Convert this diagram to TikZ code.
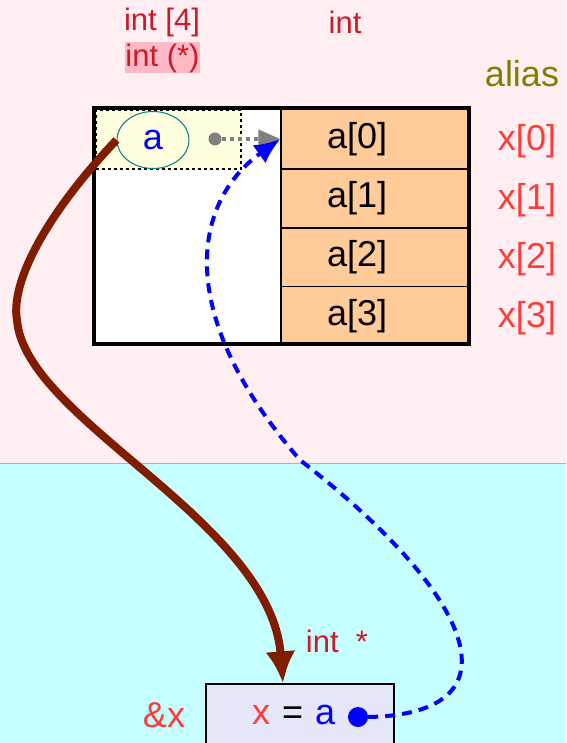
\documentclass[tikz,border=0pt]{standalone}
\usepackage{fontspec}
\setmainfont{Liberation Sans}
\usepackage{xcolor}
\usepackage{tikz}
\usetikzlibrary{arrows.meta,shapes.geometric,calc}
\definecolor{FondoRosa}{RGB}{255,238,242}
\definecolor{FondoCian}{RGB}{198,255,255}
\definecolor{CeldaNaranja}{RGB}{255,204,153}
\definecolor{PunteroAmarillo}{RGB}{255,255,224}
\definecolor{CajaLavanda}{RGB}{230,230,250}
\definecolor{TipoRojo}{RGB}{205,25,40}
\definecolor{AliasRojo}{RGB}{255,60,60}
\definecolor{Oliva}{RGB}{128,128,0}
\definecolor{MarronFlecha}{RGB}{128,28,0}
\definecolor{RosaMarca}{RGB}{255,185,198}
\tikzset{
  big/.style={font=\fontsize{36}{40}\selectfont},
  small/.style={font=\fontsize{31}{36}\selectfont},
  cell/.style={big,draw=black,line width=1.2pt,fill=CeldaNaranja,minimum height=59pt,
    text width=96pt,inner xsep=46pt,inner ysep=0pt,align=left},
  typelbl/.style={small,text=TipoRojo,inner sep=1pt},
  aliaslbl/.style={big,text=AliasRojo,inner sep=0pt},
}
\begin{document}
\begin{tikzpicture}[x=1pt,y=-1pt,>=Latex]
  \useasboundingbox (0,0) rectangle (566,743);
  \fill[FondoRosa] (0,0) rectangle (566,463);
  \fill[FondoCian] (0,463) rectangle (566,743);
  \draw[gray!60,line width=0.8pt] (0,463) -- (566,463);
  % arreglo de 4 enteros
  \fill[white] (94,108) rectangle (281,344);
  \node[cell] (c0) at (375,139) {a[0]};
  \node[cell] (c1) at (375,198.5) {a[1]};
  \node[cell] (c2) at (375,257.5) {a[2]};
  \node[cell] (c3) at (375,316) {a[3]};
  \node[fill=PunteroAmarillo,draw=black,dashed,line width=1.5pt,minimum width=145pt,
    minimum height=59pt,inner sep=0pt] (pbox) at (168.5,139.5) {};
  \node[big,ellipse,draw=teal,line width=1pt,text=blue,minimum width=72pt,
    minimum height=57pt,inner sep=0pt] (a) at (153,140) {a};
  \draw[line width=4pt] (94,108) rectangle (469,344);
  \node[circle,fill=gray,minimum size=13pt,inner sep=0pt] (gdot) at (215,139) {};
  \draw[gray,line width=4pt,dash pattern=on 4pt off 4pt,-{Triangle[length=22pt,width=18pt]}] (gdot) -- (c0.west);
  % etiquetas de tipo
  \node[typelbl] (t4) at (162,22) {int [4]};
  \node[typelbl,fill=RosaMarca,minimum height=31pt,inner sep=0pt] (tp) at (162.5,58) {int (*)};
  \node[typelbl] (ti) at (345,22) {int};
  \node[big,text=Oliva,inner sep=0pt] (al) at (522,74) {alias};
  \node[aliaslbl] (x0) at (527,141) {x[0]};
  \node[aliaslbl] (x1) at (527,200) {x[1]};
  \node[aliaslbl] (x2) at (527,259) {x[2]};
  \node[aliaslbl] (x3) at (527,318) {x[3]};
  % puntero x
  \node[big,fill=CajaLavanda,draw=black,line width=1.2pt,minimum height=62pt,
    text width=96pt,inner xsep=46pt,inner ysep=0pt,align=left] (xbox) at (300,715)
    {\textcolor{AliasRojo}{x} = \textcolor{blue}{a}};
  \node[circle,fill=blue,minimum size=20pt,inner sep=0pt] (bdot) at (358,717) {};
  \node[big,text=AliasRojo] (ax) at (164,715) {\&x};
  \node[typelbl] (tps) at (337,641) {int \ *};
  \draw[MarronFlecha,line width=8pt,->,>={Latex[length=32pt,width=30pt]}]
    (a.west) .. controls (50,210) and (10,280) .. (17,320)
    .. controls (25,420) and (270,520) .. ([xshift=-17pt]xbox.north);
  \draw[blue,line width=4pt,dash pattern=on 10pt off 7pt,->,>={Latex[length=26pt,width=22pt]}]
    (bdot.east) .. controls (520,714) and (480,600) .. (300,460)
    .. controls (170,310) and (195,200) .. (c0.west);
\end{tikzpicture}
\end{document}
